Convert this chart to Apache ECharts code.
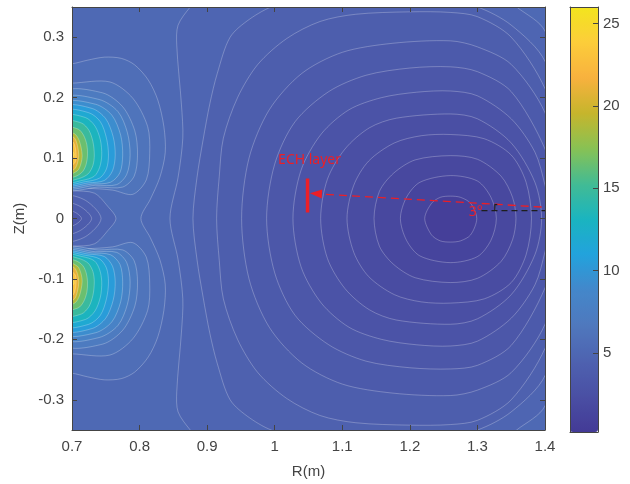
<!DOCTYPE html>
<html>
<head>
<meta charset="utf-8">
<script src="https://cdn.jsdelivr.net/npm/echarts@6/dist/echarts.min.js"></script>
<style>
  html, body { margin: 0; padding: 0; background: #fff; }
  #chart { width: 630px; height: 484px; }
</style>
</head>
<body>
<div id="chart"></div>
<script>
// contour lines, points are [R, Z]
var plotBox = [[0.69, -0.36], [1.41, -0.36], [1.41, 0.36], [0.69, 0.36]];
var baseValue = 5.2;

// rings round the minimum near R=1.26, outermost first
var minRings = [
    [[0.845,0],[0.857,0.068],[0.864,0.133],[0.862,0.188],[0.855,0.287],[0.857,0.32],[0.875,0.35],[0.9,0.38],[1.1,0.42],[1.3,0.4],[1.358,0.35],[1.4,0.31],[1.5,0],[1.4,-0.31],[1.358,-0.35],[1.3,-0.4],[1.1,-0.42],[0.9,-0.38],[0.875,-0.35],[0.857,-0.32],[0.855,-0.287],[0.862,-0.188],[0.864,-0.133],[0.857,-0.068]],
    [[0.879,0],[0.885,0.068],[0.894,0.13],[0.904,0.19],[0.915,0.24],[0.934,0.3],[0.963,0.33],[1.0,0.352],[1.1,0.375],[1.2,0.38],[1.3,0.35],[1.35,0.32],[1.4,0.26],[1.48,0],[1.4,-0.26],[1.35,-0.32],[1.3,-0.35],[1.2,-0.38],[1.1,-0.375],[1.0,-0.352],[0.963,-0.33],[0.934,-0.3],[0.915,-0.24],[0.904,-0.19],[0.894,-0.13],[0.885,-0.068]],
    [[0.914,0],[0.918,0.07],[0.924,0.133],[0.945,0.2],[0.975,0.255],[1.018,0.298],[1.067,0.326],[1.12,0.338],[1.2,0.342],[1.26,0.341],[1.3,0.334],[1.35,0.3],[1.4,0.215],[1.47,0],[1.4,-0.215],[1.35,-0.3],[1.3,-0.334],[1.26,-0.341],[1.2,-0.342],[1.12,-0.338],[1.067,-0.326],[1.018,-0.298],[0.975,-0.255],[0.945,-0.2],[0.924,-0.133],[0.918,-0.07]],
    [[0.951,0],[0.962,0.1],[0.992,0.18],[1.04,0.24],[1.1,0.275],[1.175,0.29],[1.26,0.294],[1.3,0.284],[1.35,0.255],[1.4,0.175],[1.45,0],[1.4,-0.175],[1.35,-0.255],[1.3,-0.284],[1.26,-0.293],[1.175,-0.289],[1.1,-0.274],[1.04,-0.239],[0.992,-0.18],[0.962,-0.1]],
    [[0.988,0],[1.0,0.09],[1.03,0.16],[1.08,0.21],[1.135,0.237],[1.2,0.249],[1.26,0.251],[1.3,0.243],[1.35,0.21],[1.4,0.115],[1.43,0],[1.4,-0.115],[1.35,-0.21],[1.3,-0.243],[1.26,-0.249],[1.2,-0.247],[1.135,-0.236],[1.08,-0.209],[1.03,-0.16],[1.0,-0.09]],
    [[1.027,0],[1.039,0.08],[1.069,0.14],[1.11,0.18],[1.158,0.2],[1.21,0.209],[1.26,0.211],[1.3,0.203],[1.35,0.165],[1.385,0.11],[1.4,0.055],[1.41,0],[1.4,-0.055],[1.385,-0.11],[1.35,-0.165],[1.3,-0.203],[1.26,-0.211],[1.21,-0.209],[1.158,-0.2],[1.11,-0.18],[1.069,-0.14],[1.039,-0.08]],
    [[1.068,0],[1.078,0.065],[1.104,0.115],[1.14,0.15],[1.18,0.166],[1.26,0.173],[1.3,0.165],[1.35,0.125],[1.385,0.06],[1.395,0],[1.385,-0.06],[1.35,-0.126],[1.3,-0.166],[1.26,-0.175],[1.18,-0.168],[1.14,-0.151],[1.104,-0.116],[1.078,-0.066]],
    [[1.107,0],[1.117,0.055],[1.139,0.095],[1.177,0.125],[1.217,0.137],[1.26,0.139],[1.31,0.132],[1.35,0.105],[1.372,0.06],[1.38,0],[1.372,-0.06],[1.35,-0.106],[1.31,-0.133],[1.26,-0.14],[1.217,-0.138],[1.177,-0.126],[1.139,-0.096],[1.117,-0.056]],
    [[1.147,0],[1.155,0.045],[1.176,0.075],[1.208,0.097],[1.26,0.104],[1.3,0.098],[1.335,0.07],[1.352,0.035],[1.357,0],[1.352,-0.035],[1.335,-0.071],[1.3,-0.099],[1.26,-0.106],[1.208,-0.098],[1.176,-0.076],[1.155,-0.046]],
    [[1.186,0],[1.195,0.035],[1.215,0.06],[1.26,0.071],[1.3,0.062],[1.32,0.035],[1.328,0],[1.32,-0.036],[1.3,-0.063],[1.26,-0.073],[1.215,-0.062],[1.195,-0.036]],
    [[1.222,0],[1.232,0.025],[1.245,0.035],[1.26,0.037],[1.275,0.035],[1.29,0.025],[1.299,0],[1.29,-0.027],[1.275,-0.037],[1.26,-0.039],[1.245,-0.037],[1.232,-0.027]]
];
var ringValues = [4.8, 4.4, 4.0, 3.6, 3.2, 2.8, 2.4, 2.0, 1.6, 1.2, 0.7];

// outer line round both hot spots, through the saddle
var hotOuter = [[0.69,0.257],[0.7,0.256],[0.723,0.262],[0.748,0.267],[0.773,0.265],[0.793,0.254],[0.813,0.229],[0.827,0.196],[0.836,0.152],[0.838,0.109],[0.83,0.068],[0.816,0.032],[0.802,0],[0.816,-0.032],[0.83,-0.068],[0.838,-0.109],[0.836,-0.152],[0.827,-0.196],[0.813,-0.229],[0.793,-0.254],[0.773,-0.265],[0.748,-0.267],[0.723,-0.262],[0.7,-0.256],[0.69,-0.257]];
var hotOuterValue = 5.7;

// valley between the two spots at the left edge
var valleyLines = [
    [[0.69,0.046],[0.7,0.046],[0.733,0.042],[0.753,0.02],[0.765,0],[0.753,-0.02],[0.733,-0.042],[0.7,-0.046],[0.69,-0.046]],
    [[0.69,0.036],[0.72,0.03],[0.743,0],[0.72,-0.03],[0.69,-0.036]],
    [[0.69,0.025],[0.712,0.02],[0.729,0],[0.712,-0.02],[0.69,-0.025]],
    [[0.69,0.014],[0.705,0.01],[0.714,0],[0.705,-0.01],[0.69,-0.014]]
];
var valleyValues = [4.8, 4.3, 3.8, 3.3];

var hotUpper = [
    [[0.69,0.224],[0.7,0.224],[0.756,0.226],[0.79,0.199],[0.812,0.152],[0.815,0.108],[0.81,0.064],[0.79,0.04],[0.76,0.047],[0.72,0.05],[0.69,0.049]],
    [[0.69,0.208],[0.745,0.208],[0.775,0.185],[0.793,0.145],[0.797,0.105],[0.792,0.07],[0.775,0.052],[0.74,0.052],[0.69,0.051]],
    [[0.69,0.198],[0.74,0.197],[0.768,0.177],[0.782,0.142],[0.786,0.105],[0.781,0.073],[0.766,0.056],[0.735,0.055],[0.69,0.053]],
    [[0.69,0.19],[0.735,0.189],[0.759,0.171],[0.772,0.138],[0.775,0.105],[0.771,0.076],[0.757,0.06],[0.73,0.057],[0.69,0.055]],
    [[0.69,0.184],[0.73,0.182],[0.75,0.165],[0.761,0.135],[0.764,0.105],[0.76,0.079],[0.748,0.063],[0.725,0.059],[0.69,0.057]],
    [[0.69,0.177],[0.725,0.175],[0.742,0.16],[0.751,0.133],[0.754,0.105],[0.751,0.082],[0.741,0.067],[0.72,0.061],[0.69,0.059]],
    [[0.69,0.169],[0.72,0.167],[0.734,0.153],[0.742,0.13],[0.744,0.105],[0.741,0.085],[0.733,0.07],[0.715,0.063],[0.69,0.061]],
    [[0.69,0.16],[0.714,0.158],[0.725,0.146],[0.731,0.127],[0.733,0.105],[0.731,0.088],[0.724,0.074],[0.71,0.066],[0.69,0.064]],
    [[0.69,0.15],[0.709,0.148],[0.717,0.138],[0.722,0.122],[0.723,0.105],[0.721,0.09],[0.716,0.078],[0.706,0.07],[0.69,0.068]],
    [[0.69,0.142],[0.704,0.14],[0.711,0.128],[0.715,0.105],[0.713,0.09],[0.708,0.079],[0.69,0.072]],
    [[0.69,0.136],[0.703,0.134],[0.708,0.121],[0.71,0.105],[0.708,0.091],[0.703,0.081],[0.69,0.077]],
    [[0.69,0.129],[0.702,0.126],[0.706,0.106],[0.704,0.092],[0.69,0.083]],
    [[0.69,0.121],[0.703,0.106],[0.69,0.091]]
];
var hotLower = [
    [[0.69,-0.224],[0.7,-0.224],[0.756,-0.226],[0.79,-0.199],[0.812,-0.152],[0.815,-0.108],[0.81,-0.064],[0.79,-0.04],[0.76,-0.047],[0.72,-0.05],[0.69,-0.049]],
    [[0.69,-0.208],[0.745,-0.208],[0.775,-0.185],[0.793,-0.145],[0.797,-0.105],[0.792,-0.07],[0.775,-0.052],[0.74,-0.052],[0.69,-0.051]],
    [[0.69,-0.198],[0.74,-0.197],[0.768,-0.177],[0.782,-0.142],[0.786,-0.105],[0.781,-0.073],[0.766,-0.056],[0.735,-0.055],[0.69,-0.053]],
    [[0.69,-0.19],[0.735,-0.189],[0.759,-0.171],[0.772,-0.138],[0.775,-0.105],[0.771,-0.076],[0.757,-0.06],[0.73,-0.057],[0.69,-0.055]],
    [[0.69,-0.184],[0.73,-0.182],[0.75,-0.165],[0.761,-0.135],[0.764,-0.105],[0.76,-0.079],[0.748,-0.063],[0.725,-0.059],[0.69,-0.057]],
    [[0.69,-0.177],[0.725,-0.175],[0.742,-0.16],[0.751,-0.133],[0.754,-0.105],[0.751,-0.082],[0.741,-0.067],[0.72,-0.061],[0.69,-0.059]],
    [[0.69,-0.169],[0.72,-0.167],[0.734,-0.153],[0.742,-0.13],[0.744,-0.105],[0.741,-0.085],[0.733,-0.07],[0.715,-0.063],[0.69,-0.061]],
    [[0.69,-0.16],[0.714,-0.158],[0.725,-0.146],[0.731,-0.127],[0.733,-0.105],[0.731,-0.088],[0.724,-0.074],[0.71,-0.066],[0.69,-0.064]],
    [[0.69,-0.15],[0.709,-0.148],[0.717,-0.138],[0.722,-0.122],[0.723,-0.105],[0.721,-0.09],[0.716,-0.078],[0.706,-0.07],[0.69,-0.068]],
    [[0.69,-0.142],[0.704,-0.14],[0.711,-0.128],[0.715,-0.105],[0.713,-0.09],[0.708,-0.079],[0.69,-0.072]],
    [[0.69,-0.136],[0.703,-0.134],[0.708,-0.121],[0.71,-0.105],[0.708,-0.091],[0.703,-0.081],[0.69,-0.077]],
    [[0.69,-0.129],[0.702,-0.126],[0.706,-0.106],[0.704,-0.092],[0.69,-0.083]],
    [[0.69,-0.121],[0.703,-0.106],[0.69,-0.091]]
];
var hotValues = [6.3, 7.1, 8.1, 9.3, 10.5, 11.8, 13.2, 14.8, 16.5, 18.8, 21, 23, 25];

// colour scale and ticks
var colorMin = 0.2, colorMax = 26;
var parula = ['#433a96','#4a4fa4','#4e62b0','#4f78bd','#4487ca','#22a2dd','#1ab4c0','#42bb94','#88c254','#c6b52c','#f8b13e','#fccd3a','#f3e51e'];
var zTicks = [-0.3, -0.2, -0.1, 0, 0.1, 0.2, 0.3];
var barTicks = [5, 10, 15, 20, 25];

// annotations
var noteTexts = ['ECH layer', '3°'];
var notePos = [[1.005, 0.097], [1.2976, 0.0115]];
var noteAlign = ['left', 'center'];
var echBar = [[1.0486, 0.066], [1.0486, 0.010]];
var beamFrom = [1.395, 0.019];
var beamTo = [1.061, 0.041];
var axisRef = [[1.306, 0.013], [1.40, 0.013]];
var angleMark = [[1.3294, 0.0231], [1.3257, 0.0231], [1.3257, 0.013]];

var shapes = [plotBox].concat(minRings, [hotOuter], valleyLines, hotUpper, hotLower);
var fills = [baseValue].concat(ringValues, [hotOuterValue], valleyValues, hotValues, hotValues);
var contourData = shapes.map(function (s, i) { return [i, fills[i]]; });
var noteData = notePos.map(function (p, i) { return [p[0], p[1], i]; });

var font = 'Liberation Sans, Arial, sans-serif';
var ink = '#444';
var red = '#ec1f27';

function frameAxis(extra) {
    var a = {
        type: 'value', z: 10,
        axisLine: { show: true, onZero: false, lineStyle: { color: ink, width: 1 } },
        axisTick: { show: false },
        axisLabel: { show: false },
        splitLine: { show: false }
    };
    for (var k in extra) a[k] = extra[k];
    return a;
}

var chart = echarts.init(document.getElementById('chart'));
chart.setOption({
    animation: false,
    backgroundColor: '#fff',
    textStyle: { fontFamily: font },
    grid: [
        { left: 72, top: 7, width: 473, height: 425 },
        { left: 570, top: 7, width: 28, height: 425 }
    ],
    xAxis: [
        frameAxis({
            gridIndex: 0, position: 'bottom', min: 0.7, max: 1.4, interval: 0.1,
            axisTick: { show: true, inside: true, length: 5, lineStyle: { color: ink } },
            axisLabel: { show: true, color: ink, fontSize: 15, margin: 9, fontFamily: font },
            name: 'R(m)', nameLocation: 'middle', nameGap: 34,
            nameTextStyle: { color: ink, fontSize: 15, fontFamily: font }
        }),
        frameAxis({
            gridIndex: 0, position: 'top', min: 0.7, max: 1.4, interval: 0.1,
            axisTick: { show: true, inside: true, length: 5, lineStyle: { color: ink } }
        }),
        frameAxis({ gridIndex: 1, position: 'bottom', min: 0, max: 1 }),
        frameAxis({ gridIndex: 1, position: 'top', min: 0, max: 1 })
    ],
    yAxis: [
        frameAxis({
            gridIndex: 0, position: 'left', min: -0.35, max: 0.35,
            axisTick: { show: true, inside: true, length: 5, customValues: zTicks, lineStyle: { color: ink } },
            axisLabel: { show: true, customValues: zTicks, color: ink, fontSize: 15, margin: 8, fontFamily: font },
            name: 'Z(m)', nameLocation: 'middle', nameGap: 41, nameRotate: 90,
            nameTextStyle: { color: ink, fontSize: 15, fontFamily: font }
        }),
        frameAxis({
            gridIndex: 0, position: 'right', min: -0.35, max: 0.35,
            axisTick: { show: true, inside: true, length: 5, customValues: zTicks, lineStyle: { color: ink } }
        }),
        frameAxis({ gridIndex: 1, position: 'left', min: colorMin, max: colorMax }),
        frameAxis({
            gridIndex: 1, position: 'right', min: colorMin, max: colorMax,
            axisTick: { show: true, inside: true, length: 5, customValues: barTicks, lineStyle: { color: ink } },
            axisLabel: { show: true, customValues: barTicks, color: ink, fontSize: 15, margin: 5, fontFamily: font }
        })
    ],
    visualMap: {
        type: 'continuous',
        seriesIndex: 0,
        dimension: 1,
        min: colorMin,
        max: colorMax,
        calculable: false,
        orient: 'vertical',
        left: 570,
        top: 7,
        padding: 0,
        itemWidth: 28,
        itemHeight: 425,
        text: null,
        inRange: { color: parula }
    },
    series: [
        {
            type: 'custom',
            xAxisIndex: 0,
            yAxisIndex: 0,
            clip: true,
            silent: true,
            z: 2,
            data: contourData,
            renderItem: function (params, api) {
                var idx = api.value(0);
                var pts = shapes[idx].map(function (p) { return api.coord(p); });
                return {
                    type: 'polygon',
                    shape: { points: pts, smooth: idx === 0 ? 0 : 0.3 },
                    style: {
                        fill: api.visual('color'),
                        stroke: idx === 0 ? null : 'rgba(255,255,255,0.32)',
                        lineWidth: 0.8
                    }
                };
            }
        },
        {
            type: 'line',
            xAxisIndex: 0, yAxisIndex: 0, z: 5,
            symbol: 'none', silent: true,
            data: axisRef,
            lineStyle: { color: '#1e1e1e', width: 1.2, type: [6, 4] },
            markLine: {
                silent: true,
                symbol: ['none', 'triangle'],
                symbolSize: [9, 12],
                label: { show: false },
                lineStyle: { color: red, width: 1.3, type: [8, 5] },
                data: [[{ coord: beamFrom }, { coord: beamTo }]]
            }
        },
        {
            type: 'line',
            xAxisIndex: 0, yAxisIndex: 0, z: 5,
            symbol: 'none', silent: true,
            data: echBar,
            lineStyle: { color: red, width: 3.5, type: 'solid' }
        },
        {
            type: 'line',
            xAxisIndex: 0, yAxisIndex: 0, z: 5,
            symbol: 'none', silent: true,
            data: angleMark,
            lineStyle: { color: '#1e1e1e', width: 1.2 }
        },
        {
            type: 'custom',
            xAxisIndex: 0, yAxisIndex: 0, z: 6,
            silent: true,
            data: noteData,
            renderItem: function (params, api) {
                var pt = api.coord([api.value(0), api.value(1)]);
                var i = api.value(2);
                return {
                    type: 'text',
                    x: pt[0],
                    y: pt[1],
                    style: {
                        text: noteTexts[i],
                        fill: red,
                        font: '14px "Noto Sans", "Liberation Sans", sans-serif',
                        align: noteAlign[i],
                        verticalAlign: 'middle'
                    }
                };
            }
        }
    ]
});
</script>
</body>
</html>
